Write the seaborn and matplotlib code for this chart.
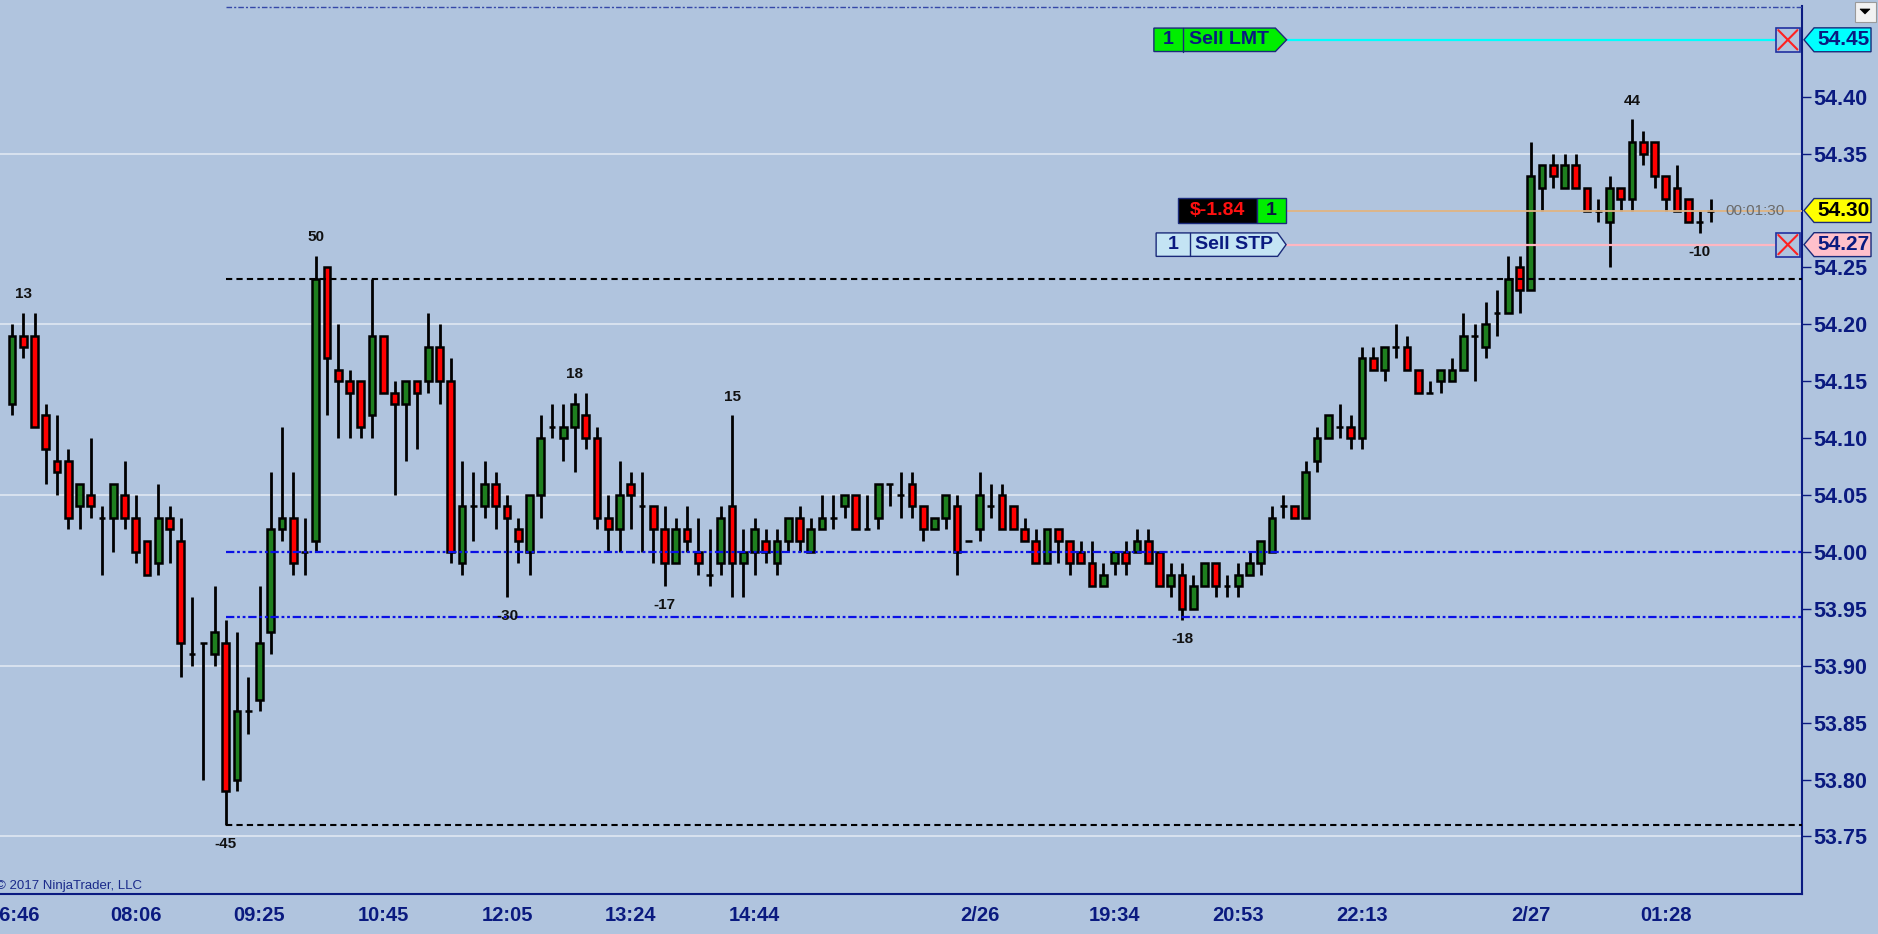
import numpy as np
import pandas as pd
import matplotlib
matplotlib.use("Agg")
import matplotlib.pyplot as plt
import matplotlib.transforms as mtransforms
from matplotlib.patches import Polygon, Rectangle
import seaborn as sns

# OHLC per bar (bar index = position on the chart)
opens = [54.13, 54.19, 54.19, 54.12, 54.08, 54.08, 54.04, 54.05, 54.03, 54.03,
         54.05, 54.03, 54.01, 53.99, 54.03, 54.01, 53.91, 53.92, 53.91, 53.92,
         53.80, 53.86, 53.87, 53.93, 54.02, 54.03, 54.00, 54.01, 54.25, 54.16,
         54.15, 54.15, 54.12, 54.19, 54.14, 54.13, 54.15, 54.15, 54.18, 54.15,
         53.99, 54.04, 54.04, 54.06, 54.04, 54.02, 54.00, 54.05, 54.11, 54.10,
         54.11, 54.12, 54.10, 54.03, 54.02, 54.06, 54.04, 54.04, 54.02, 53.99,
         54.02, 54.00, 53.98, 53.99, 54.04, 53.99, 54.00, 54.01, 53.99, 54.01,
         54.03, 54.00, 54.02, 54.03, 54.04, 54.05, 54.02, 54.03, 54.06, 54.05,
         54.06, 54.04, 54.02, 54.03, 54.04, 54.01, 54.02, 54.04, 54.05, 54.04,
         54.02, 54.01, 53.99, 54.02, 54.01, 54.00, 53.99, 53.97, 53.99, 54.00,
         54.00, 54.01, 54.00, 53.97, 53.98, 53.95, 53.97, 53.99, 53.97, 53.97,
         53.98, 53.99, 54.00, 54.04, 54.04, 54.03, 54.08, 54.10, 54.11, 54.11,
         54.10, 54.17, 54.16, 54.18, 54.18, 54.16, 54.14, 54.15, 54.15, 54.16,
         54.19, 54.18, 54.21, 54.21, 54.25, 54.23, 54.32, 54.34, 54.32, 54.34,
         54.32, 54.30, 54.29, 54.32, 54.31, 54.36, 54.36, 54.33, 54.32, 54.31,
         54.29, 54.30]
highs = [54.20, 54.21, 54.21, 54.13, 54.12, 54.09, 54.06, 54.10, 54.04, 54.06,
         54.08, 54.05, 54.01, 54.06, 54.04, 54.03, 53.96, 53.92, 53.97, 53.94,
         53.93, 53.89, 53.97, 54.07, 54.11, 54.07, 54.03, 54.26, 54.25, 54.20,
         54.16, 54.15, 54.24, 54.19, 54.15, 54.15, 54.15, 54.21, 54.20, 54.17,
         54.08, 54.07, 54.08, 54.07, 54.05, 54.03, 54.05, 54.12, 54.13, 54.13,
         54.14, 54.14, 54.11, 54.05, 54.08, 54.07, 54.07, 54.04, 54.04, 54.03,
         54.04, 54.03, 54.02, 54.04, 54.12, 54.02, 54.03, 54.02, 54.02, 54.03,
         54.04, 54.03, 54.05, 54.05, 54.05, 54.05, 54.05, 54.06, 54.06, 54.07,
         54.07, 54.04, 54.03, 54.05, 54.05, 54.01, 54.07, 54.06, 54.06, 54.04,
         54.03, 54.02, 54.02, 54.02, 54.01, 54.01, 54.01, 53.99, 54.00, 54.01,
         54.02, 54.02, 54.00, 53.99, 53.99, 53.98, 53.99, 53.99, 53.98, 53.99,
         54.00, 54.01, 54.04, 54.05, 54.04, 54.08, 54.11, 54.12, 54.13, 54.12,
         54.18, 54.18, 54.18, 54.20, 54.19, 54.16, 54.15, 54.16, 54.17, 54.21,
         54.20, 54.22, 54.23, 54.26, 54.26, 54.36, 54.34, 54.35, 54.35, 54.35,
         54.32, 54.31, 54.33, 54.32, 54.38, 54.37, 54.36, 54.33, 54.34, 54.31,
         54.30, 54.31]
lows = [54.12, 54.17, 54.11, 54.06, 54.05, 54.02, 54.02, 54.03, 53.98, 54.00,
        54.02, 53.99, 53.98, 53.98, 53.99, 53.89, 53.90, 53.80, 53.90, 53.76,
        53.79, 53.84, 53.86, 53.91, 54.01, 53.98, 53.98, 54.00, 54.12, 54.10,
        54.10, 54.10, 54.10, 54.14, 54.05, 54.08, 54.09, 54.14, 54.13, 53.99,
        53.98, 54.01, 54.03, 54.02, 53.96, 53.99, 53.98, 54.03, 54.10, 54.08,
        54.07, 54.09, 54.02, 54.00, 54.00, 54.02, 54.00, 53.99, 53.97, 53.99,
        54.00, 53.98, 53.97, 53.98, 53.96, 53.96, 53.98, 53.99, 53.98, 54.00,
        54.00, 54.00, 54.02, 54.02, 54.03, 54.02, 54.02, 54.02, 54.04, 54.03,
        54.03, 54.01, 54.02, 54.02, 53.98, 54.01, 54.01, 54.03, 54.02, 54.02,
        54.01, 53.99, 53.99, 53.99, 53.98, 53.99, 53.97, 53.97, 53.98, 53.98,
        54.00, 53.99, 53.97, 53.96, 53.94, 53.95, 53.97, 53.96, 53.96, 53.96,
        53.98, 53.98, 54.00, 54.03, 54.03, 54.03, 54.07, 54.10, 54.10, 54.09,
        54.09, 54.16, 54.15, 54.17, 54.16, 54.14, 54.14, 54.14, 54.15, 54.16,
        54.15, 54.17, 54.19, 54.21, 54.21, 54.23, 54.30, 54.32, 54.32, 54.32,
        54.30, 54.29, 54.25, 54.30, 54.30, 54.34, 54.32, 54.30, 54.30, 54.29,
        54.28, 54.29]
closes = [54.19, 54.18, 54.11, 54.09, 54.07, 54.03, 54.06, 54.04, 54.03, 54.06,
          54.03, 54.00, 53.98, 54.03, 54.02, 53.92, 53.91, 53.92, 53.93, 53.79,
          53.86, 53.86, 53.92, 54.02, 54.03, 53.99, 54.00, 54.24, 54.17, 54.15,
          54.14, 54.11, 54.19, 54.14, 54.13, 54.15, 54.14, 54.18, 54.15, 54.00,
          54.04, 54.04, 54.06, 54.04, 54.03, 54.01, 54.05, 54.10, 54.11, 54.11,
          54.13, 54.10, 54.03, 54.02, 54.05, 54.05, 54.04, 54.02, 53.99, 54.02,
          54.01, 53.99, 53.98, 54.03, 53.99, 54.00, 54.02, 54.00, 54.01, 54.03,
          54.01, 54.02, 54.03, 54.03, 54.05, 54.02, 54.02, 54.06, 54.06, 54.05,
          54.04, 54.02, 54.03, 54.05, 54.00, 54.01, 54.05, 54.04, 54.02, 54.02,
          54.01, 53.99, 54.02, 54.01, 53.99, 53.99, 53.97, 53.98, 54.00, 53.99,
          54.01, 53.99, 53.97, 53.98, 53.95, 53.97, 53.99, 53.97, 53.97, 53.98,
          53.99, 54.01, 54.03, 54.04, 54.03, 54.07, 54.10, 54.12, 54.11, 54.10,
          54.17, 54.16, 54.18, 54.18, 54.16, 54.14, 54.14, 54.16, 54.16, 54.19,
          54.19, 54.20, 54.21, 54.24, 54.23, 54.33, 54.34, 54.33, 54.34, 54.32,
          54.30, 54.30, 54.32, 54.31, 54.36, 54.35, 54.33, 54.31, 54.30, 54.29,
          54.29, 54.30]

time_ticks = [0.2, 11, 22, 33, 44, 55, 66, 77, 86, 98, 109, 120, 131, 135, 147]
time_labels = ['06:46', '08:06', '09:25', '10:45', '12:05', '13:24', '14:44', '',
               '2/26', '19:34', '20:53', '22:13', '', '2/27', '01:28']
price_ticks = [53.75, 53.80, 53.85, 53.90, 53.95, 54.00, 54.05, 54.10, 54.15,
               54.20, 54.25, 54.35, 54.40]
grid_levels = [53.75, 53.90, 54.05, 54.20, 54.35]

# swing labels
swing_bars = [1, 27, 50, 64, 144, 19, 44, 58, 104, 150]
swing_text = ['13', '50', '18', '15', '44', '-45', '-30', '-17', '-18', '-10']
swing_is_high = [True, True, True, True, True, False, False, False, False, False]

# drawn levels
dash_levels = [54.24, 53.76]
dashdot_levels = [54.00, 53.943]
top_level = 54.479
level_start = 19

# orders / position
sell_lmt = 54.45
sell_stp = 54.27
avg_price = 54.30
last_price = 54.30
pnl_text = '$-1.84'
qty = 1
timer_text = '00:01:30'

df = pd.DataFrame({'open': opens, 'high': highs, 'low': lows, 'close': closes})
df['bar'] = np.arange(len(df))
df['up'] = df['close'] >= df['open']

sns.set_theme(style='white')
plt.rcParams['font.family'] = ['Liberation Sans', 'DejaVu Sans']
plt.rcParams['lines.scale_dashes'] = False

bg = '#b0c4de'
navy = '#0a1a80'

fig = plt.figure(figsize=(18.78, 9.34), dpi=100, facecolor=bg)
ax = fig.add_axes([0, 1 - 894 / 934, 1802 / 1878, 888 / 934])
ax.set_facecolor(bg)
ax.set_xlim(-1.067, 159.11)
ax.set_ylim(53.6994, 54.4797)

for g in grid_levels:
    ax.axhline(g, color='#e4ebf4', lw=1.1, zorder=1)

# candles
ax.vlines(df['bar'], df['low'], df['high'], color='black', lw=2.0, zorder=2)
body_colors = np.where(df['up'], '#1f7f1f', '#ff0000')
ax.bar(df['bar'], df['close'] - df['open'], bottom=df['open'], width=0.6,
       color=body_colors, edgecolor='black', linewidth=1.8, zorder=3)

# drawn levels
xr = ax.get_xlim()[1]
for lv in dash_levels:
    ax.hlines(lv, level_start, xr, color='black', lw=1.5,
              linestyle=(0, (4.5, 3)), zorder=4)
for lv in dashdot_levels:
    ax.hlines(lv, level_start, xr, color='#0a10e6', lw=1.6,
              linestyle=(0, (6, 2, 2, 2, 2, 2)), zorder=4)
ax.hlines(top_level, level_start, xr, color='#3548a8', lw=1.0,
          linestyle=(0, (4, 1.5, 1.5, 1.5)), zorder=4)

# swing labels
for b, t, hi in zip(swing_bars, swing_text, swing_is_high):
    if hi:
        ax.annotate(t, (b, df.loc[b, 'high']), xytext=(0, 13.5),
                    textcoords='offset points', ha='center', va='center',
                    fontsize=11, fontweight='bold', color='#111111', zorder=6)
    else:
        ax.annotate(t, (b, df.loc[b, 'low']), xytext=(0, -13.5),
                    textcoords='offset points', ha='center', va='center',
                    fontsize=11, fontweight='bold', color='#111111', zorder=6)


def pentagon_right(x0, x1, tip, yc, h, fc):
    pts = [(x0, yc - h), (x1, yc - h), (tip, yc), (x1, yc + h), (x0, yc + h)]
    ax.add_patch(Polygon(pts, closed=True, fc=fc, ec='#1a2a7a', lw=1.0, zorder=7))


# order lines
ax.hlines(sell_lmt, 113.3, 156.8, color='#00ffff', lw=1.6, zorder=5)
ax.hlines(sell_stp, 113.25, 156.8, color='#ffb6c1', lw=1.6, zorder=5)
ax.hlines(avg_price, 113.25, xr, color='#e0b482', lw=1.3, zorder=5)

# Sell LMT tag
pentagon_right(101.5, 112.3, 113.3, sell_lmt, 0.0103, '#00ee00')
ax.plot([104.1, 104.1], [sell_lmt - 0.0103, sell_lmt + 0.0103], color='#1a2a7a', lw=1.0, zorder=8)
ax.text(102.8, sell_lmt, str(qty), ha='center', va='center', fontsize=14,
        fontweight='bold', color=navy, zorder=9)
ax.text(108.2, sell_lmt, 'Sell LMT', ha='center', va='center', fontsize=14,
        fontweight='bold', color=navy, zorder=9)

# Sell STP tag
pentagon_right(101.7, 112.5, 113.25, sell_stp, 0.0103, '#c4e4f4')
ax.plot([104.7, 104.7], [sell_stp - 0.0103, sell_stp + 0.0103], color='#1a2a7a', lw=1.0, zorder=8)
ax.text(103.2, sell_stp, str(qty), ha='center', va='center', fontsize=14,
        fontweight='bold', color=navy, zorder=9)
ax.text(108.6, sell_stp, 'Sell STP', ha='center', va='center', fontsize=14,
        fontweight='bold', color=navy, zorder=9)

# position box
ax.add_patch(Rectangle((103.6, avg_price - 0.011), 7.1, 0.022, fc='black',
                       ec='#1a2a7a', lw=1.0, zorder=7))
ax.add_patch(Rectangle((110.7, avg_price - 0.011), 2.55, 0.022, fc='#00ee00',
                       ec='#1a2a7a', lw=1.0, zorder=7))
ax.text(107.15, avg_price, pnl_text, ha='center', va='center', fontsize=14,
        fontweight='bold', color='#ff1010', zorder=9)
ax.text(111.97, avg_price, str(qty), ha='center', va='center', fontsize=14,
        fontweight='bold', color='#0a1a40', zorder=9)

# cancel boxes
for lv in [sell_lmt, sell_stp]:
    ax.add_patch(Rectangle((156.8, lv - 0.0105), 2.1, 0.021, fc=bg,
                           ec='#2030a0', lw=1.2, zorder=7))
    ax.plot([157.0, 158.7], [lv - 0.0085, lv + 0.0085], color='#ff2020', lw=1.5, zorder=8)
    ax.plot([157.0, 158.7], [lv + 0.0085, lv - 0.0085], color='#ff2020', lw=1.5, zorder=8)

# bar timer
ax.text(154.9, last_price, timer_text, ha='center', va='center', fontsize=11,
        color='#6a6a6a', zorder=9)

# price markers on the axis
trans = mtransforms.blended_transform_factory(ax.transAxes, ax.transData)
for lv, fc, tc in [(sell_lmt, '#00ffff', navy), (last_price, '#ffff00', 'black'),
                   (sell_stp, '#ffc0cb', navy)]:
    h = 0.0105
    pts = [(1.0011, lv), (1.0067, lv - h), (1.0383, lv - h), (1.0383, lv + h), (1.0067, lv + h)]
    ax.add_patch(Polygon(pts, closed=True, fc=fc, ec='#1a2a7a', lw=1.0,
                         transform=trans, clip_on=False, zorder=10))
    ax.text(1.0085, lv, f'{lv:.2f}', transform=trans, ha='left', va='center',
            fontsize=15, fontweight='bold', color=tc, clip_on=False, zorder=11)

# axes styling
for s in ['top', 'left']:
    ax.spines[s].set_visible(False)
for s in ['bottom', 'right']:
    ax.spines[s].set_color(navy)
    ax.spines[s].set_linewidth(1.5)

ax.yaxis.tick_right()
ax.set_yticks(price_ticks)
ax.set_yticklabels([f'{p:.2f}' for p in price_ticks])
ax.tick_params(axis='y', direction='out', length=6.5, width=1.0, color=navy,
               pad=1.5, labelsize=15.5, labelcolor=navy)
ax.set_xticks(time_ticks)
ax.set_xticklabels(time_labels)
ax.tick_params(axis='x', direction='out', length=5.8, width=1.0, color=navy,
               pad=3, labelsize=14.5, labelcolor=navy)
for lab in ax.get_xticklabels() + ax.get_yticklabels():
    lab.set_fontweight('bold')
ax.grid(False)

ax.text(-0.002, 0.0095, '\u00a9 2017 NinjaTrader, LLC', transform=ax.transAxes,
        ha='left', va='center', fontsize=9.5, color='#1a2a8a')

# small dropdown button top-right
fig.add_artist(Rectangle((1855 / 1878, 1 - 22 / 934), 21 / 1878, 20 / 934,
                         transform=fig.transFigure, fc='#f2f2f2', ec='#9a9a9a', lw=0.8))
fig.add_artist(Polygon([(1860 / 1878, 1 - 9 / 934), (1870 / 1878, 1 - 9 / 934),
                        (1865 / 1878, 1 - 14 / 934)], closed=True,
                       transform=fig.transFigure, fc='black', ec='black', lw=0.5))

fig.savefig('out.png', dpi=100, facecolor=bg)
